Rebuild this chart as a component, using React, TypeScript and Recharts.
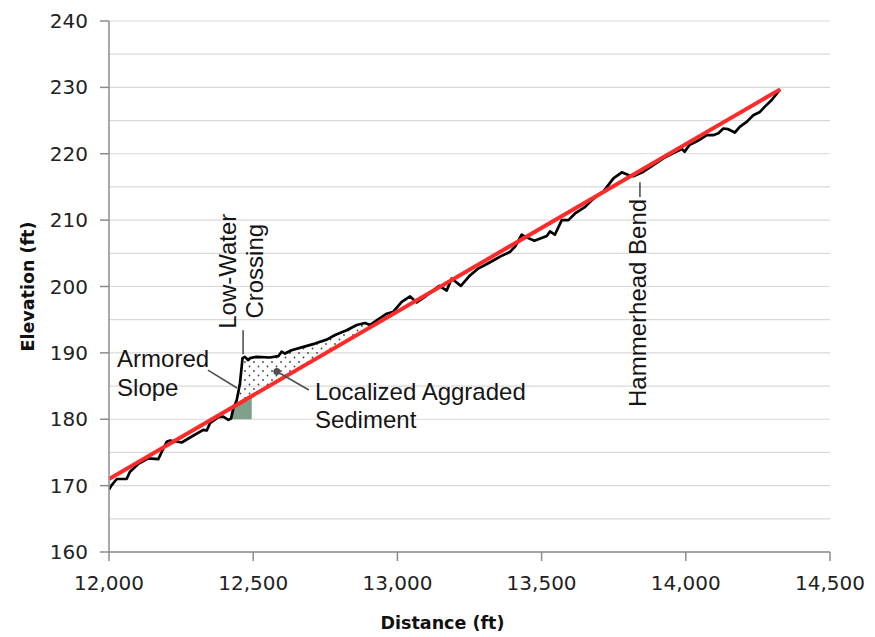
import React from 'react';
import {
  ComposedChart,
  Line,
  Area,
  XAxis,
  YAxis,
  CartesianGrid,
  ReferenceLine,
  ReferenceDot,
  Label,
} from 'recharts';

// ---------- data ----------
const xTicks = [12000, 12500, 13000, 13500, 14000, 14500];
const yTicks = [160, 170, 180, 190, 200, 210, 220, 230, 240];
const gridValues = [160, 165, 170, 175, 180, 185, 190, 195, 200, 205, 210, 215, 220, 225, 230, 235, 240];

// surveyed channel profile (black)
const profileDistance = [
  12000, 12008, 12027, 12061, 12073, 12102, 12136, 12171, 12183, 12200, 12212, 12252, 12287, 12327,
  12339, 12350, 12379, 12396, 12414, 12423, 12431, 12443, 12448, 12454, 12460, 12463, 12471, 12483,
  12489, 12512, 12558, 12587, 12599, 12610, 12633, 12674, 12714, 12755, 12784, 12824, 12859, 12888,
  12905, 12928, 12963, 12986, 13015, 13044, 13067, 13100, 13145, 13171, 13188, 13220, 13250, 13280,
  13315, 13340, 13356, 13390, 13408, 13431, 13448, 13475, 13500, 13518, 13529, 13546, 13570, 13593,
  13616, 13651, 13674, 13697, 13714, 13749, 13778, 13801, 13818, 13853, 13887, 13922, 13957, 13986,
  13996, 14012, 14035, 14055, 14073, 14095, 14113, 14130, 14147, 14170, 14188, 14211, 14234, 14257,
  14274, 14298, 14327,
];
const profileElevation = [
  169.4, 170.0, 171.0, 171.0, 172.1, 173.3, 174.1, 174.0, 175.1, 176.6, 176.8, 176.5, 177.4, 178.4,
  178.3, 179.4, 180.3, 180.4, 179.9, 180.1, 181.6, 182.9, 184.0, 185.4, 187.9, 189.2, 189.4, 188.9,
  189.2, 189.4, 189.3, 189.5, 190.2, 189.9, 190.4, 190.9, 191.4, 192.0, 192.7, 193.4, 194.2, 194.5,
  194.2, 194.9, 195.9, 196.2, 197.7, 198.5, 197.6, 198.6, 200.1, 199.4, 201.2, 200.1, 201.6, 202.7,
  203.5, 204.1, 204.5, 205.2, 206.0, 207.8, 207.4, 206.9, 207.3, 207.6, 208.3, 207.8, 210.0, 210.0,
  211.0, 212.0, 213.0, 213.8, 214.3, 216.3, 217.2, 216.8, 216.6, 217.3, 218.3, 219.3, 220.1, 220.7,
  220.3, 221.3, 221.8, 222.3, 222.8, 222.8, 223.1, 223.8, 223.7, 223.2, 224.1, 224.8, 225.8, 226.3,
  227.1, 228.1, 229.7,
];

// equilibrium grade line (red)
const trendDistance = [12000, 14327];
const trendElevation = [171.0, 229.7];

// localized aggraded sediment wedge (dotted)
const sedimentDistance = [
  12440, 12448, 12454, 12460, 12463, 12471, 12483, 12489, 12512, 12558, 12587, 12599, 12610, 12633,
  12674, 12714, 12755, 12784, 12824, 12859, 12888, 12905,
];
const sedimentSurface = [
  182.4, 184.0, 185.4, 187.9, 189.2, 189.4, 188.9, 189.2, 189.4, 189.3, 189.5, 190.2, 189.9, 190.4,
  190.9, 191.4, 192.0, 192.7, 193.4, 194.2, 194.5, 194.2,
];
const sedimentGrade = [
  182.1, 182.3, 182.5, 182.6, 182.7, 182.9, 183.2, 183.3, 183.9, 185.1, 185.8, 186.1, 186.4, 187.0,
  188.0, 189.0, 190.0, 190.8, 191.8, 192.7, 193.4, 193.8,
];

// armored slope (green)
const armorDistance = [12423, 12440, 12495];
const armorTop = [180.1, 182.1, 183.5];
const armorBase = 180;

// ---------- derived tables ----------
const profileData = profileDistance.map((d, i) => ({ d, v: profileElevation[i] }));
const trendData = trendDistance.map((d, i) => ({ d, v: trendElevation[i] }));
const sedimentData = sedimentDistance.map((d, i) => ({ d, range: [sedimentGrade[i], sedimentSurface[i]] }));
const armorData = armorDistance.map((d, i) => ({ d, v: armorTop[i] }));

// ---------- annotations (anchored in data space) ----------
const annotations = [
  { x: 12440, y: 202.3, text: 'Low-Water', rotate: true, anchor: 'middle' },
  { x: 12534, y: 202.3, text: 'Crossing', rotate: true, anchor: 'middle' },
  { x: 12028, y: 187.87, text: 'Armored', rotate: false, anchor: 'start' },
  { x: 12028, y: 183.5, text: 'Slope', rotate: false, anchor: 'start' },
  { x: 12714, y: 182.9, text: 'Localized Aggraded', rotate: false, anchor: 'start' },
  { x: 12714, y: 178.68, text: 'Sediment', rotate: false, anchor: 'start' },
  { x: 13862, y: 181.85, text: 'Hammerhead Bend', rotate: true, anchor: 'start' },
];

const leaders = [
  [{ x: 12465, y: 193.4 }, { x: 12465, y: 189.8 }],
  [{ x: 12343, y: 187.4 }, { x: 12444, y: 184.7 }],
  [{ x: 12582, y: 187.2 }, { x: 12693, y: 184.4 }],
  [{ x: 13841, y: 215.7 }, { x: 13841, y: 213.5 }],
];

const TICK_FONT = '"DejaVu Sans", Verdana, sans-serif';
const NOTE_FONT = '"Liberation Sans", Arial, Helvetica, sans-serif';

const makeNote = (a: any) => (props: any) => {
  const { cx, cy } = props;
  return (
    <text
      x={cx}
      y={cy}
      transform={a.rotate ? `rotate(-90 ${cx} ${cy})` : undefined}
      textAnchor={a.anchor}
      fontFamily={NOTE_FONT}
      fontSize={24}
      fill="#151515"
    >
      {a.text}
    </text>
  );
};

const renderYLabel = (props: any) => {
  const vb = props.viewBox || { x: 0, y: 21, width: 109, height: 531 };
  const x = vb.x + 34;
  const y = vb.y + vb.height / 2;
  return (
    <text
      x={x}
      y={y}
      transform={`rotate(-90 ${x} ${y})`}
      textAnchor="middle"
      fontFamily={TICK_FONT}
      fontWeight="bold"
      fontSize={17.5}
      fill="#111"
    >
      Elevation (ft)
    </text>
  );
};

const renderXLabel = (props: any) => {
  const vb = props.viewBox || { x: 109, y: 552, width: 721, height: 85 };
  const x = vb.x + vb.width / 2 - 27;
  const y = vb.y + 77;
  return (
    <text x={x} y={y} textAnchor="middle" fontFamily={TICK_FONT} fontWeight="bold" fontSize={17.5} fill="#111">
      Distance (ft)
    </text>
  );
};

export default function App() {
  return (
    <div style={{ position: 'absolute', left: 0, top: 0, background: '#fff' }}>
      <ComposedChart width={875} height={637} margin={{ top: 21, right: 45, bottom: 0, left: 0 }}>
        <defs>
          <pattern id="sedDots" width="9" height="9" patternUnits="userSpaceOnUse">
            <circle cx="2" cy="2" r="0.9" fill="#444" />
            <circle cx="6.5" cy="6.5" r="0.9" fill="#444" />
          </pattern>
        </defs>
        <CartesianGrid vertical={false} horizontalValues={gridValues} stroke="#d9d9d9" strokeWidth={1.2} />
        <XAxis
          type="number"
          dataKey="d"
          domain={[12000, 14500]}
          ticks={xTicks}
          interval={0}
          height={85}
          tickSize={9}
          tickMargin={15}
          stroke="#8c8c8c"
          strokeWidth={1.5}
          tick={{ fontFamily: TICK_FONT, fontSize: 20, fill: '#222' }}
          tickFormatter={(v: number) => v.toLocaleString('en-US')}
          allowDataOverflow
        >
          <Label content={renderXLabel} />
        </XAxis>
        <YAxis
          type="number"
          domain={[160, 240]}
          ticks={yTicks}
          interval={0}
          width={109}
          tickSize={9}
          tickMargin={12}
          stroke="#8c8c8c"
          strokeWidth={1.5}
          tick={{ fontFamily: TICK_FONT, fontSize: 20, fill: '#222' }}
          allowDataOverflow
        >
          <Label content={renderYLabel} />
        </YAxis>

        <Area
          data={armorData}
          dataKey="v"
          type="linear"
          baseValue={armorBase}
          fill="#7fa08a"
          fillOpacity={1}
          stroke="none"
          isAnimationActive={false}
        />
        <Area
          data={sedimentData}
          dataKey="range"
          type="linear"
          fill="url(#sedDots)"
          fillOpacity={1}
          stroke="none"
          isAnimationActive={false}
        />
        <Line
          data={profileData}
          dataKey="v"
          type="linear"
          stroke="#000"
          strokeWidth={2.7}
          strokeLinejoin="round"
          dot={false}
          activeDot={false}
          isAnimationActive={false}
        />
        <Line
          data={trendData}
          dataKey="v"
          type="linear"
          stroke="#ff2a2a"
          strokeWidth={4}
          dot={false}
          activeDot={false}
          isAnimationActive={false}
        />

        {leaders.map((seg, i) => (
          <ReferenceLine key={`l${i}`} segment={seg} stroke="#505050" strokeWidth={1.6} ifOverflow="visible" />
        ))}
        <ReferenceDot x={12582} y={187.2} r={3.5} fill="#505050" stroke="none" ifOverflow="visible" />
        {annotations.map((a, i) => (
          <ReferenceDot key={`a${i}`} x={a.x} y={a.y} r={0} ifOverflow="visible" shape={makeNote(a)} />
        ))}
      </ComposedChart>
    </div>
  );
}
